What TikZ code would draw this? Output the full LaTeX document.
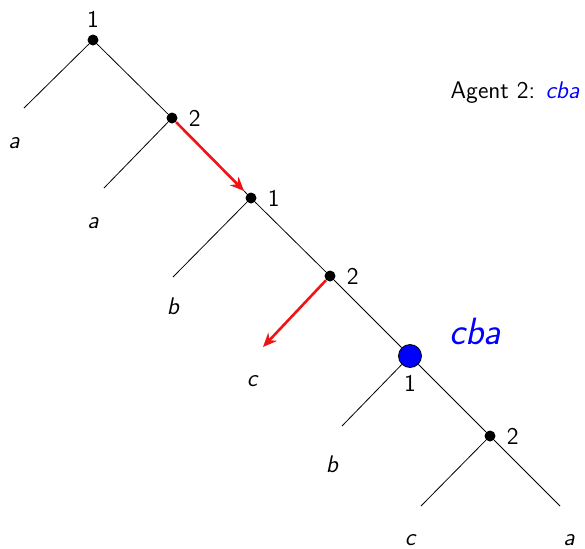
\documentclass[tikz,border=0pt]{standalone}
\usepackage{tikz}
\usetikzlibrary{arrows.meta, positioning}
\renewcommand{\familydefault}{\sfdefault}
\definecolor{movered}{RGB}{240,20,20}

\begin{document}
\begin{tikzpicture}[
    x=0.5pt, y=-0.5pt,
    dot/.style={circle, fill=black, inner sep=0pt, minimum size=5.5pt},
    bigdot/.style={circle, draw=black, fill=blue, inner sep=0pt, minimum size=11.5pt},
    edge/.style={thin, color=black},
    move/.style={-{Stealth[length=7pt, width=6pt]}, line width=1.3pt, color=movered},
    leaf/.style={font=\large\itshape},
    who/.style={font=\large}
]
\useasboundingbox (0,0) rectangle (585,548);
% decision nodes
\node[dot] (d1) at (93,40) {};
\node[dot] (d2) at (172,118) {};
\node[dot] (d3) at (251,198) {};
\node[dot] (d4) at (330,276) {};
\node[bigdot] (d5) at (410,356) {};
\node[dot] (d6) at (490,436) {};
% leaf ends
\coordinate (e1) at (24,108);
\coordinate (e2) at (104,188);
\coordinate (e3) at (173,277);
\coordinate (e5) at (342,426);
\coordinate (e6) at (421,506);
\coordinate (e7) at (560,506);
\coordinate (m4) at (263,347);
% player labels
\node[who, above=0pt of d1] (p1) {1};
\node[who, right=2pt of d2] (p2) {2};
\node[who, right=2pt of d3] (p3) {1};
\node[who, right=2pt of d4] (p4) {2};
\node[who, below=0pt of d5] (p5) {1};
\node[who, right=2pt of d6] (p6) {2};
% outcomes
\node[leaf] (t1) at (14,143) {a};
\node[leaf] (t2) at (93,223) {a};
\node[leaf] (t3) at (173,306) {b};
\node[leaf] (t4) at (252,381) {c};
\node[leaf] (t5) at (332,464) {b};
\node[leaf] (t6) at (410,540) {c};
\node[leaf] (t7) at (569,540) {a};
% tree
\draw[edge] (d1) -- (e1);
\draw[edge] (d1) -- (d2);
\draw[edge] (d2) -- (e2);
\draw[edge] (d2) -- (d3);
\draw[edge] (d3) -- (e3);
\draw[edge] (d3) -- (d4);
\draw[edge] (d4) -- (d5);
\draw[edge] (d5) -- (e5);
\draw[edge] (d5) -- (d6);
\draw[edge] (d6) -- (e6);
\draw[edge] (d6) -- (e7);
% moves
\draw[move, shorten >=2pt] (d2) -- (d3);
\draw[move] (d4) -- (m4);
% history
\node[font=\fontsize{19}{23}\selectfont\itshape, text=blue] (hist) at (475,331) {cba};
\node[font=\large] (agent) at (515,93) {Agent 2: \textcolor{blue}{\itshape cba}};
\end{tikzpicture}
\end{document}
